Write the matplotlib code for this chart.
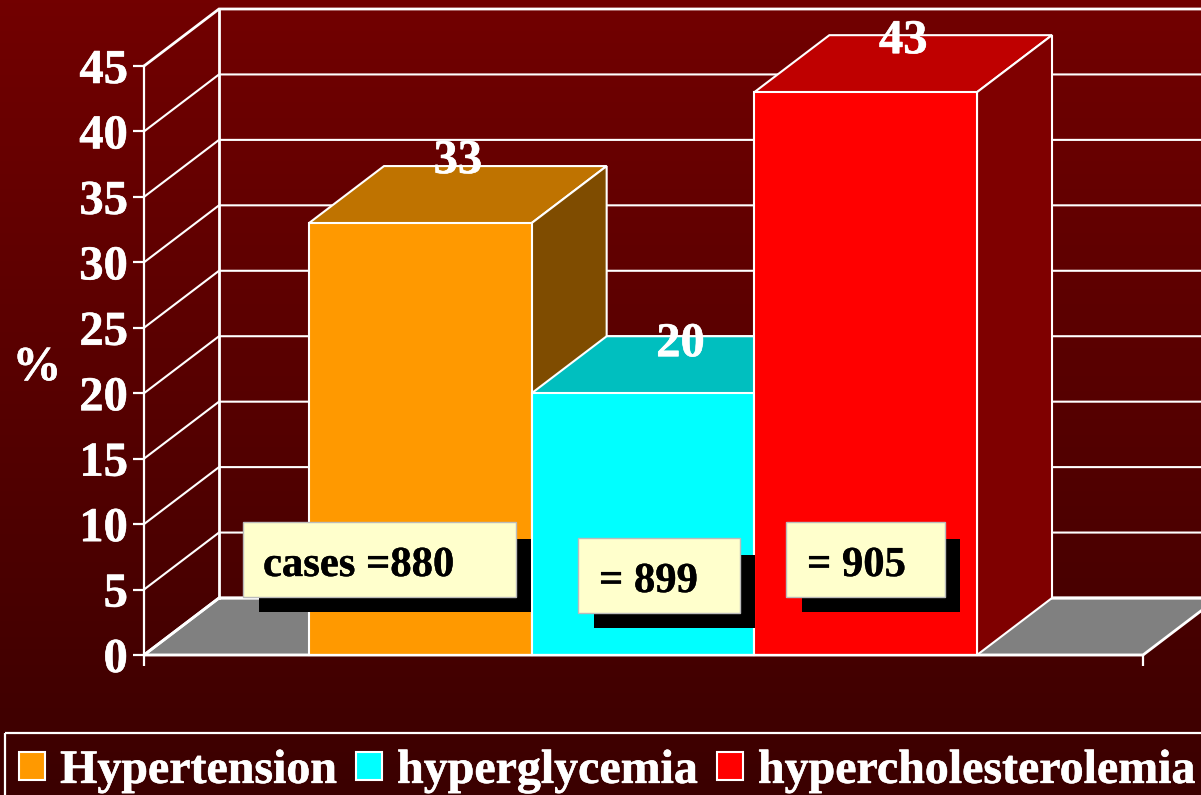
import numpy as np
import matplotlib
matplotlib.use("Agg")
import matplotlib.pyplot as plt
import matplotlib.patheffects as pe
from matplotlib.colors import LinearSegmentedColormap
from matplotlib.patches import Rectangle, Patch
from matplotlib.transforms import Affine2D, IdentityTransform

categories = ["Hypertension", "hyperglycemia", "hypercholesterolemia"]
values = [33, 20, 43]
yticks = [0, 5, 10, 15, 20, 25, 30, 35, 40, 45]
front_colors = ["#FF9900", "#00FFFF", "#FF0000"]
top_colors = ["#BF7300", "#00BFBF", "#BF0000"]
side_colors = ["#7F4C00", "#007F7F", "#7F0000"]
case_labels = ["cases =880", "= 899", "= 905"]

W, H = 1201, 795
SERIF = ["Liberation Serif", "DejaVu Serif"]
plt.rcParams["font.family"] = SERIF
plt.rcParams["font.weight"] = "bold"
heavy_w = [pe.withStroke(linewidth=0.4, foreground="white")]
heavy_k = [pe.withStroke(linewidth=0.25, foreground="black")]

fig = plt.figure(figsize=(W / 100, H / 100), dpi=100)
px = Affine2D().scale(1, -1).translate(0, H)  # pixel coordinates, top-left origin

# background gradient
bg = fig.add_axes([0, 0, 1, 1], zorder=0)
bg.axis("off")
cmap = LinearSegmentedColormap.from_list("bg", ["#720000", "#3B0000"])
bg.imshow(np.linspace(0, 1, 256)[:, None], aspect="auto", cmap=cmap, extent=(0, 1, 0, 1))

# main axes: pixel box 144..1143 x 66..655
L, R, T, B = 144, 1143, 66, 655
ax = fig.add_axes([L / W, 1 - B / H, (R - L) / W, (B - T) / H], zorder=1)
ax.patch.set_visible(False)
unit_x = 222.67
xmin = -0.5 - (309 - L) / unit_x
xmax = xmin + (R - L) / unit_x
ax.set_xlim(xmin, xmax)
ax.set_ylim(0, 45)
dx = 75 / unit_x
dy = 57 / ((B - T) / 45)

# floor
ax.fill([xmin, xmin + dx, xmax + dx, xmax], [0, dy, dy, 0], fc="#808080", ec="white",
        lw=2, clip_on=False, zorder=1)
# walls and gridlines
for t in yticks:
    ax.plot([xmin, xmin + dx, xmax + dx], [t, t + dy, t + dy], color="white",
            lw=2 if t in (0, 45) else 1.5, clip_on=False, zorder=1.5, solid_joinstyle="miter")
ax.plot([xmin + dx, xmin + dx], [dy, 45 + dy], color="white", lw=2, clip_on=False, zorder=1.5)

# 3D bars
x = np.arange(len(values))
for i, v in enumerate(values):
    z = 2 + i
    ax.bar(x[i], v, width=1.0, color=front_colors[i], edgecolor="white", lw=1.5, zorder=z + 0.2,
           clip_on=False)
    l, r = x[i] - 0.5, x[i] + 0.5
    ax.fill([l, l + dx, r + dx, r], [v, v + dy, v + dy, v], fc=top_colors[i], ec="white",
            lw=1.5, clip_on=False, zorder=z)
    ax.fill([r, r + dx, r + dx, r], [0, dy, v + dy, v], fc=side_colors[i], ec="white",
            lw=1.5, clip_on=False, zorder=z)

# value labels
label_rise = [67, 54, 56]
for i, v in enumerate(values):
    ax.annotate(str(v), (x[i] + dx / 2, v), xytext=(0, label_rise[i] * 0.72),
                textcoords="offset points", ha="center", va="center_baseline", color="white",
                fontsize=35, fontweight="bold", zorder=10, annotation_clip=False,
                path_effects=heavy_w)

# case boxes
boxes = [(243, 522, 273, 75, 263), (578, 538, 162, 75, 599), (786, 522, 159, 75, 807)]
for (bx, by, bw, bh, tx), label in zip(boxes, case_labels):
    ax.add_patch(Rectangle((bx + 16, by + 17), bw - 1, bh - 2, fc="black", ec="none",
                           transform=px, zorder=8, clip_on=False))
    ax.add_patch(Rectangle((bx, by), bw, bh, fc="#FFFFCC", ec="#BBBBBB", lw=1,
                           transform=px, zorder=9, clip_on=False))
    ax.text(tx, by + bh / 2 + 2, label, transform=px, ha="left", va="center_baseline", color="black",
            fontsize=30.7, fontweight="bold", zorder=10, clip_on=False, path_effects=heavy_k)

# axes styling
for s in ("top", "right"):
    ax.spines[s].set_visible(False)
for s in ("left", "bottom"):
    ax.spines[s].set_color("white")
    ax.spines[s].set_linewidth(1.6)
    ax.spines[s].set_zorder(7)
ax.set_yticks(yticks)
ax.set_xticks([xmin, xmax])
ax.set_xticklabels([])
ax.tick_params(axis="both", colors="white", width=1.6, length=8)
ax.tick_params(axis="y", labelsize=35, pad=3.6)
for lab in ax.get_yticklabels():
    lab.set_fontweight("bold")
    lab.set_path_effects(heavy_w)
ylab = ax.set_ylabel("%", rotation=0, color="white", fontsize=35, fontweight="bold",
                     ha="center", va="center", path_effects=heavy_w)
ax.yaxis.set_label_coords((37 - L) / (R - L), (B - 368) / (B - T))

# legend frame runs past the right and bottom edges of the picture
fig.add_artist(Rectangle((5, 733), 1300, 120, fc="none", ec="white", lw=1.6,
                         transform=px, zorder=4))
handles = [Patch(fc=c, ec="white", lw=1.5) for c in front_colors]
leg = fig.legend(handles, categories, ncol=3, loc="upper left",
                 bbox_to_anchor=(5, H - 735), bbox_transform=IdentityTransform(),
                 fontsize=34.5, frameon=False, labelcolor="white", borderaxespad=0,
                 handlelength=0.55, handleheight=0.55, handletextpad=0.31,
                 columnspacing=0.40, borderpad=0.29)
leg.set_zorder(5)
for t in leg.get_texts():
    t.set_path_effects(heavy_w)

fig.savefig("out.png", dpi=100)
